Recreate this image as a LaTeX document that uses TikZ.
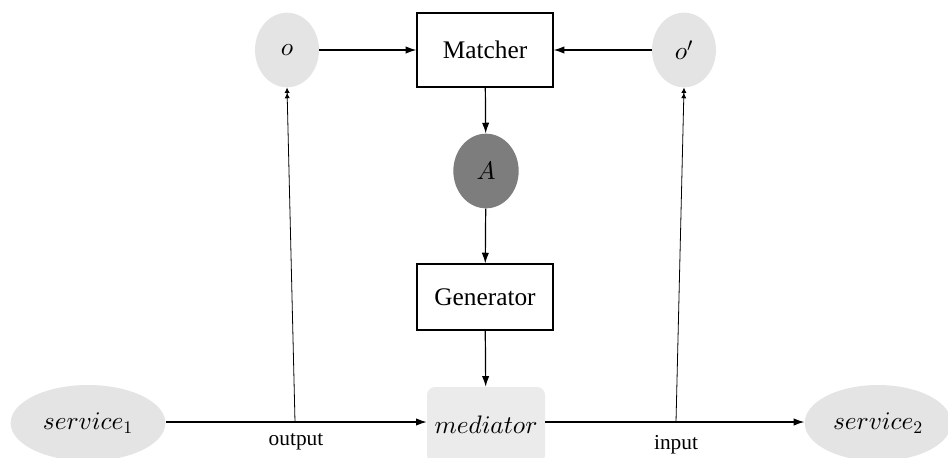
\documentclass[tikz,border=0pt]{standalone}
\usepackage[no-math]{fontspec}
\setmainfont{Liberation Serif}
\DeclareFontFamily{OML}{cmm}{\skewchar\font'177}
\DeclareFontShape{OML}{cmm}{m}{it}{<-> cmmi10}{}
\DeclareFontShape{OT1}{cmr}{m}{n}{<-> cmr10}{}
\usetikzlibrary{arrows.meta,shapes.geometric}
\definecolor{softgray}{HTML}{E4E4E4}
\definecolor{darkgray}{HTML}{7D7D7D}
\definecolor{medgray}{HTML}{EBEBEB}
\begin{document}
\begin{tikzpicture}[x=0.75pt,y=-0.75pt,
  every node/.style={font=\fontsize{19}{22}\selectfont},
  soft/.style={ellipse,fill=softgray,inner sep=0pt},
  dark/.style={ellipse,fill=darkgray,inner sep=0pt,minimum width=49pt,minimum height=56pt},
  boxnode/.style={draw,line width=0.9pt,inner sep=0pt,minimum width=102pt},
  arr/.style={line width=0.9pt,-{Latex[length=8pt,width=5.5pt]}},
  dbl/.style={line width=0.6pt,-{Latex[length=4pt,width=4pt]Latex[length=4pt,width=4pt]}},
  lbl/.style={font=\fontsize{16}{19}\selectfont}]
\useasboundingbox (0,0) rectangle (948,457);
\clip (0,0) rectangle (948,457);
\node[soft,minimum width=48pt,minimum height=56pt] (o) at (287,50) {$o$};
\node[boxnode,minimum height=55.5pt] (matcher) at (485,50) {Matcher};
\node[soft,minimum width=48pt,minimum height=56pt] (op) at (684,50) {$o'$};
\node[dark] (A) at (486,171) {$A$};
\node[boxnode,minimum height=49.5pt] (gen) at (485,297) {Generator};
\node[fill=medgray,rounded corners=6pt,minimum width=88.5pt,minimum height=57pt,inner sep=0pt] (med) at (486,425) {$mediator$};
\node[soft,minimum width=116pt,minimum height=57pt] (s1) at (88,423) {$service_1$};
\node[soft,minimum width=110pt,minimum height=57pt] (s2) at (878,423) {$service_2$};
\coordinate (j1) at (295,422);
\coordinate (j2) at (676,422);
\draw[arr] (o) -- (matcher);
\draw[arr] (op) -- (matcher);
\draw[arr] (matcher) -- (A);
\draw[arr] (A) -- (gen);
\draw[arr] (gen) -- (med);
\draw[arr] (s1.east |- j1) -- (med.west |- j1);
\draw[arr] (med.east |- j2) -- (s2.west |- j2);
\draw[dbl] (j1) -- (o.south);
\draw[dbl] (j2) -- (op.south);
\node[lbl] (outl) at (296,442) {output};
\node[lbl] (inl) at (676,445) {input};
\end{tikzpicture}
\end{document}
